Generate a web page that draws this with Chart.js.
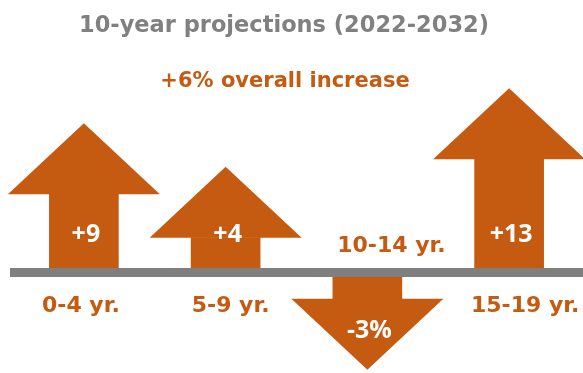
<!DOCTYPE html>
<html>
<head>
<meta charset="utf-8">
<script src="https://cdn.jsdelivr.net/npm/chart.js@4"></script>
<style>
  html, body { margin: 0; padding: 0; background: #fff; }
  #wrap { width: 583px; height: 373px; position: relative; }
</style>
</head>
<body>
<div id="wrap"><canvas id="projChart"></canvas></div>
<script>
// 10-year projections by age group
const titleText = '10-year projections (2022-2032)';
const subtitleText = '+6% overall increase';
const categories = ['0-4 yr.', '5-9 yr.', '10-14 yr.', '15-19 yr.'];
const changes = [9, 4, -3, 13];
const changeLabels = ['+9', '+4', '-3%', '+13'];

const orange = '#C55A11';
const gray = '#7F7F7F';
const heavy = '"DejaVu Sans", sans-serif';

// draws arrow heads, the zero line and all the texts
const arrowPlugin = {
  id: 'arrows',
  afterDatasetsDraw(chart) {
    const ctx = chart.ctx;
    const meta = chart.getDatasetMeta(0);
    const y0 = chart.scales.y.getPixelForValue(0);
    const nudge = [-3, 5, 24, 16];

    ctx.save();
    meta.data.forEach((bar, i) => {
      const { x, y, base } = bar.getProps(['x', 'y', 'base'], true);
      const dir = y < base ? -1 : 1;
      ctx.fillStyle = orange;
      ctx.beginPath();
      ctx.moveTo(x - 76, y);
      ctx.lineTo(x + 76, y);
      ctx.lineTo(x, y + dir * 71);
      ctx.closePath();
      ctx.fill();
    });

    ctx.fillStyle = gray;
    ctx.fillRect(10, y0 - 4.5, chart.width - 10, 9);

    ctx.textAlign = 'center';
    ctx.textBaseline = 'alphabetic';
    meta.data.forEach((bar, i) => {
      const { x, y, base } = bar.getProps(['x', 'y', 'base'], true);
      const up = y < base;
      ctx.fillStyle = '#fff';
      ctx.font = 'bold 25px "Open Sans", sans-serif';
      ctx.fillText(changeLabels[i], x + 2, up ? y0 - 31 : y0 + 65);
      ctx.fillStyle = orange;
      ctx.font = 'bold 22px ' + heavy;
      ctx.fillText(categories[i], x + nudge[i], up ? y0 + 39 : y0 - 21);
    });

    ctx.fillStyle = '#808080';
    ctx.font = 'bold 22.5px ' + heavy;
    ctx.fillText(titleText, 284, 32);
    ctx.fillStyle = orange;
    ctx.font = 'bold 21px ' + heavy;
    ctx.fillText(subtitleText, 285, 87);
    ctx.restore();
  }
};

const ctx = document.getElementById('projChart');
new Chart(ctx, {
  type: 'bar',
  data: {
    labels: categories,
    datasets: [{
      data: changes,
      backgroundColor: orange,
      borderWidth: 0,
      barThickness: 69
    }]
  },
  options: {
    responsive: true,
    maintainAspectRatio: false,
    animation: false,
    layout: {
      padding: { top: 150.6, bottom: 4.7, left: 13, right: 3 }
    },
    plugins: {
      legend: { display: false },
      tooltip: { enabled: false }
    },
    scales: {
      x: { display: false },
      y: { display: false, min: -11, max: 14 }
    }
  },
  plugins: [arrowPlugin]
});
</script>
</body>
</html>
